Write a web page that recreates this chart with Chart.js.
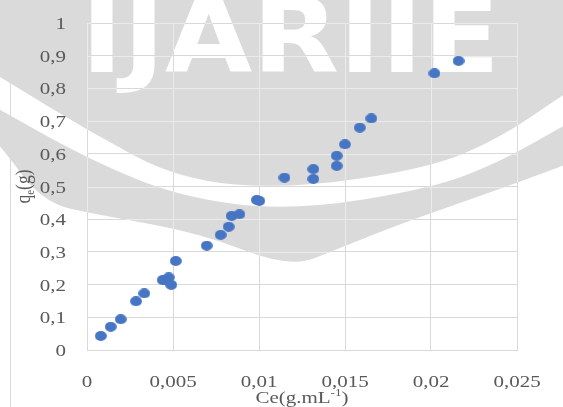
<!DOCTYPE html>
<html>
<head>
<meta charset="utf-8">
<script src="https://cdn.jsdelivr.net/npm/chart.js@4/dist/chart.umd.min.js"></script>
<style>
  html, body { margin: 0; padding: 0; background: #ffffff; }
  #wrap { width: 563px; height: 407px; position: relative; }
</style>
</head>
<body>
<div id="wrap"><canvas id="chart"></canvas></div>
<script>
// Equilibrium concentration Ce (g/mL) and adsorbed amount qe (g)
const ceValues = [0.00080, 0.00138, 0.00196, 0.00285, 0.00333, 0.00440, 0.00458, 0.00475, 0.00490,
                  0.00516, 0.00696, 0.00777, 0.00824, 0.00841, 0.00886, 0.00987, 0.01002, 0.01148,
                  0.01316, 0.01316, 0.01452, 0.01452, 0.01500, 0.01586, 0.01653, 0.02020, 0.02160];
const qeValues = [0.043, 0.071, 0.094, 0.149, 0.173, 0.214, 0.213, 0.222, 0.199,
                  0.272, 0.319, 0.352, 0.377, 0.410, 0.415, 0.459, 0.456, 0.527,
                  0.553, 0.523, 0.563, 0.594, 0.629, 0.680, 0.708, 0.846, 0.884];

const xTickValues = [0, 0.005, 0.01, 0.015, 0.02, 0.025];
const xTickLabels = ['0', '0,005', '0,01', '0,015', '0,02', '0,025'];
const yTickValues = [0, 0.1, 0.2, 0.3, 0.4, 0.5, 0.6, 0.7, 0.8, 0.9, 1];
const yTickLabels = ['0', '0,1', '0,2', '0,3', '0,4', '0,5', '0,6', '0,7', '0,8', '0,9', '1'];

const xTitleMain = 'Ce(g.mL';
const xTitleSup = '-1';
const xTitleEnd = ')';
const yTitleMain = 'q';
const yTitleSub = 'e';
const yTitleEnd = '(g)';
const logoText = 'IJARIIE';

const TEXT_GREY = '#595959';
const GRID_GREY = '#d9d9d9';
const LOGO_GREY = '#dadada';
const SERIF = '"Liberation Serif", "Times New Roman", serif';
const FONT_BIG = '17.5px ' + SERIF;
const FONT_SMALL = '11px ' + SERIF;
const TEXT_STRETCH = 1.2;   // text is set slightly wide

// slightly wide oval marker
const marker = document.createElement('canvas');
marker.width = 12; marker.height = 10;
(function () {
  const m = marker.getContext('2d');
  m.fillStyle = '#4675c3';
  m.beginPath();
  m.ellipse(6, 5, 5.9, 4.9, 0, 0, Math.PI * 2);
  m.fill();
})();

// ---- logo backdrop: grey bowl with a white swoosh and lettering ----
const innerEdge = [[-10, 71], [0, 77], [90, 132], [180, 180], [290, 189], [430, 168], [500, 138], [563, 95], [575, 88]];
const gapEdge   = [[-10, 104], [0, 110], [90, 160], [180, 197], [290, 211], [430, 189], [500, 162], [563, 126], [575, 120]];
const outerEdge = [[-10, 136], [0, 145], [43, 203], [100, 215], [200, 233], [290, 268], [340, 248], [400, 224], [480, 196], [563, 166], [575, 160]];

function regionAbove(ctx, edge) {
  ctx.beginPath();
  ctx.moveTo(edge[0][0], -20);
  ctx.lineTo(edge[0][0], edge[0][1]);
  for (let i = 1; i < edge.length - 1; i++) {
    const mx = (edge[i][0] + edge[i + 1][0]) / 2;
    const my = (edge[i][1] + edge[i + 1][1]) / 2;
    ctx.quadraticCurveTo(edge[i][0], edge[i][1], mx, my);
  }
  const last = edge[edge.length - 1];
  ctx.lineTo(last[0], last[1]);
  ctx.lineTo(last[0], -20);
  ctx.closePath();
}

let logoMask = null;
function buildLogoMask(W, H) {
  const c = document.createElement('canvas');
  c.width = W; c.height = H;
  const g = c.getContext('2d');
  g.fillStyle = LOGO_GREY;
  regionAbove(g, outerEdge); g.fill();
  g.globalCompositeOperation = 'destination-out';
  regionAbove(g, gapEdge); g.fill();
  g.globalCompositeOperation = 'source-over';
  g.fillStyle = LOGO_GREY;
  regionAbove(g, innerEdge); g.fill();
  // lettering cut out of the grey
  g.globalCompositeOperation = 'destination-out';
  g.font = 'bold 103px "DejaVu Sans"';
  g.textBaseline = 'alphabetic';
  g.textAlign = 'left';
  const tw = g.measureText(logoText).width;
  g.save();
  g.translate(81, 72);
  g.scale(419 / tw, 1);
  g.fillStyle = '#000';
  g.fillText(logoText, 0, 0);
  g.restore();
  g.globalCompositeOperation = 'source-over';
  return c;
}

const logoBackdrop = {
  id: 'logoBackdrop',
  beforeDraw(chart) {
    const ctx = chart.ctx;
    const W = chart.width, H = chart.height;
    if (!logoMask || logoMask.width !== W || logoMask.height !== H) logoMask = buildLogoMask(W, H);
    ctx.save();
    ctx.fillStyle = '#ffffff';
    ctx.fillRect(0, 0, W, H);
    ctx.drawImage(logoMask, 0, 0);
    // outer frame edge on the left
    ctx.strokeStyle = GRID_GREY;
    ctx.lineWidth = 1;
    ctx.beginPath(); ctx.moveTo(10.5, 0); ctx.lineTo(10.5, H); ctx.stroke();
    ctx.restore();
  },
  // grid lines show up lighter where they cross the grey logo
  beforeDatasetsDraw(chart) {
    const ctx = chart.ctx;
    const a = chart.chartArea;
    const xs = chart.scales.x, ys = chart.scales.y;
    const g0 = document.createElement('canvas');
    g0.width = chart.width; g0.height = chart.height;
    const g = g0.getContext('2d');
    g.strokeStyle = '#ebebeb';
    g.lineWidth = 1;
    g.beginPath();
    xTickValues.forEach(v => {
      const p = Math.round(xs.getPixelForValue(v)) + 0.5;
      g.moveTo(p, a.top); g.lineTo(p, a.bottom);
    });
    yTickValues.forEach(v => {
      const p = Math.round(ys.getPixelForValue(v)) + 0.5;
      g.moveTo(a.left, p); g.lineTo(a.right, p);
    });
    g.stroke();
    g.globalCompositeOperation = 'destination-in';
    g.drawImage(logoMask, 0, 0);
    ctx.drawImage(g0, 0, 0);
  }
};

// ---- tick labels and axis titles (set a little wide) ----
function wideText(ctx, text, x, y, align) {
  ctx.save();
  ctx.translate(x, y);
  ctx.scale(TEXT_STRETCH, 1);
  ctx.textAlign = align;
  ctx.fillText(text, 0, 0);
  ctx.restore();
}

const axisText = {
  id: 'axisText',
  afterDraw(chart) {
    const ctx = chart.ctx;
    const area = chart.chartArea;
    const xs = chart.scales.x, ys = chart.scales.y;
    ctx.save();
    ctx.fillStyle = TEXT_GREY;
    ctx.textBaseline = 'alphabetic';
    ctx.font = FONT_BIG;

    xTickValues.forEach((v, i) => wideText(ctx, xTickLabels[i], xs.getPixelForValue(v), 387, 'center'));
    yTickValues.forEach((v, i) => wideText(ctx, yTickLabels[i], 66, ys.getPixelForValue(v) + 6, 'right'));

    // x title with superscript
    ctx.font = FONT_BIG;
    const w1 = ctx.measureText(xTitleMain).width;
    const w3 = ctx.measureText(xTitleEnd).width;
    ctx.font = FONT_SMALL;
    const w2 = ctx.measureText(xTitleSup).width;
    ctx.save();
    ctx.translate((area.left + area.right) / 2, 403);
    ctx.scale(TEXT_STRETCH, 1);
    ctx.textAlign = 'left';
    let x = -(w1 + w2 + w3) / 2;
    ctx.font = FONT_BIG; ctx.fillText(xTitleMain, x, 0); x += w1;
    ctx.font = FONT_SMALL; ctx.fillText(xTitleSup, x, -7); x += w2;
    ctx.font = FONT_BIG; ctx.fillText(xTitleEnd, x, 0);
    ctx.restore();

    // y title with subscript, rotated
    ctx.font = FONT_BIG;
    const a1 = ctx.measureText(yTitleMain).width;
    const a3 = ctx.measureText(yTitleEnd).width;
    ctx.font = FONT_SMALL;
    const a2 = ctx.measureText(yTitleSub).width;
    ctx.save();
    ctx.translate(30, (area.top + area.bottom) / 2);
    ctx.scale(TEXT_STRETCH, 1);
    ctx.rotate(-Math.PI / 2);
    ctx.textAlign = 'left';
    let lx = -(a1 + a2 + a3) / 2;
    ctx.font = FONT_BIG; ctx.fillText(yTitleMain, lx, 0); lx += a1;
    ctx.font = FONT_SMALL; ctx.fillText(yTitleSub, lx, 3); lx += a2;
    ctx.font = FONT_BIG; ctx.fillText(yTitleEnd, lx, 0);
    ctx.restore();
    ctx.restore();
  }
};

new Chart(document.getElementById('chart'), {
  type: 'scatter',
  data: {
    datasets: [{
      data: ceValues.map((c, i) => ({ x: c, y: qeValues[i] })),
      pointStyle: marker,
      pointRadius: 6,
      showLine: false
    }]
  },
  options: {
    responsive: true,
    maintainAspectRatio: false,
    animation: false,
    events: [],
    layout: { padding: { left: 0, right: 46, top: 23, bottom: 0 } },
    plugins: {
      legend: { display: false },
      tooltip: { enabled: false },
      title: { display: false }
    },
    scales: {
      x: {
        type: 'linear',
        min: 0, max: 0.025,
        afterBuildTicks: s => { s.ticks = xTickValues.map(v => ({ value: v })); },
        afterFit: s => { s.height = 57; },
        grid: { color: GRID_GREY, lineWidth: 1, drawTicks: false },
        border: { color: GRID_GREY },
        ticks: { display: false }
      },
      y: {
        type: 'linear',
        min: 0, max: 1,
        afterBuildTicks: s => { s.ticks = yTickValues.map(v => ({ value: v })); },
        afterFit: s => { s.width = 87; },
        grid: { color: GRID_GREY, lineWidth: 1, drawTicks: false },
        border: { color: GRID_GREY },
        ticks: { display: false }
      }
    }
  },
  plugins: [logoBackdrop, axisText]
});
</script>
</body>
</html>
